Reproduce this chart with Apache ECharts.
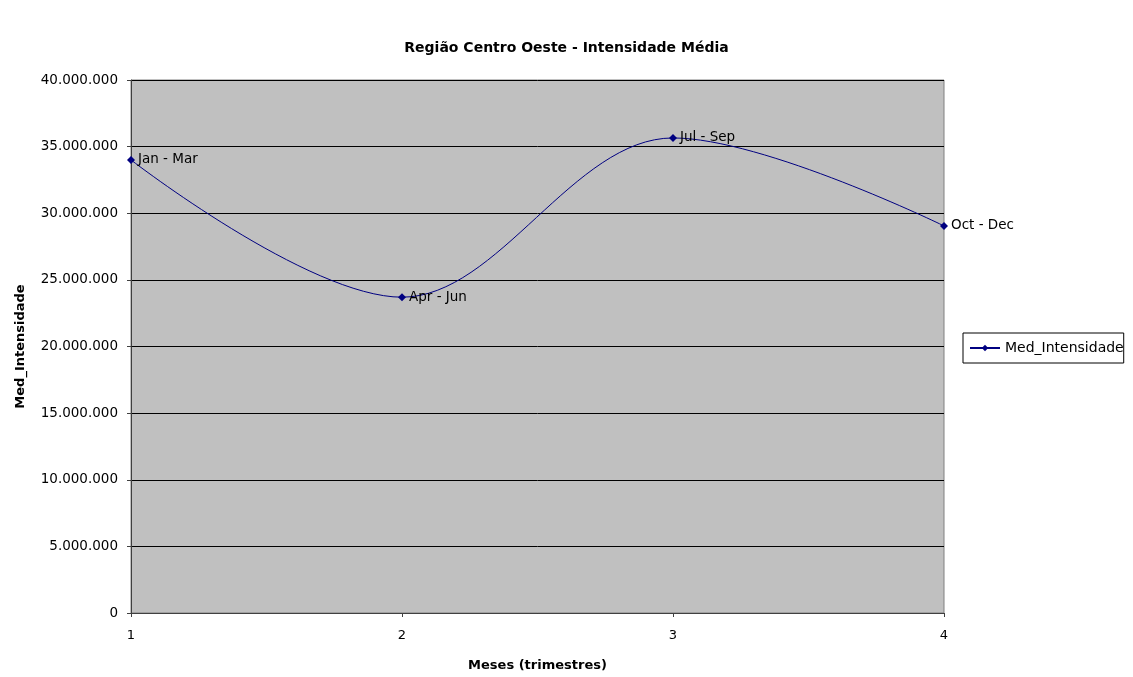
<!DOCTYPE html>
<html>
<head>
<meta charset="utf-8">
<script src="https://cdn.jsdelivr.net/npm/echarts@6/dist/echarts.min.js"></script>
<style>
  html, body { margin: 0; padding: 0; background: #fff; }
  #chart { width: 1133px; height: 677px; }
</style>
</head>
<body>
<div id="chart"></div>
<script>
// trimestres (x) e valores
var trimestres = [1, 2, 3, 4];
var rotulos = ['Jan - Mar', 'Apr - Jun', 'Jul - Sep', 'Oct - Dec'];
var medIntensidade = [34000000, 23700000, 35650000, 29050000];
var yTicks = [0, 5000000, 10000000, 15000000, 20000000, 25000000, 30000000, 35000000, 40000000];

var chart = echarts.init(document.getElementById('chart'));

function fmt(v) {
    return String(Math.round(v)).replace(/\B(?=(\d{3})+(?!\d))/g, '.');
}

var pontos = [];
for (var i = 0; i < trimestres.length; i++) {
    pontos.push({ value: [trimestres[i], medIntensidade[i]], label: { formatter: rotulos[i] } });
}

var fonte = 'DejaVu Sans, Liberation Sans, sans-serif';

var option = {
    animation: false,
    textStyle: { fontFamily: fonte },
    title: {
        text: 'Região Centro Oeste - Intensidade Média',
        left: 'center',
        top: 36,
        textStyle: { fontSize: 14, fontWeight: 'bold', color: '#000', fontFamily: fonte }
    },
    legend: {
        left: 963,
        top: 333,
        orient: 'vertical',
        padding: [8, 0, 8, 6],
        itemGap: 0,
        itemWidth: 30,
        itemHeight: 8,
        borderColor: '#000',
        borderWidth: 1,
        backgroundColor: '#fff',
        textStyle: { fontSize: 14, color: '#000', fontFamily: fonte },
        data: ['Med_Intensidade']
    },
    grid: {
        left: 131,
        right: 189,
        top: 80,
        bottom: 64,
        show: true,
        backgroundColor: '#C0C0C0',
        borderColor: '#808080',
        borderWidth: 1
    },
    xAxis: {
        type: 'value',
        min: 1,
        max: 4,
        interval: 1,
        name: 'Meses (trimestres)',
        nameLocation: 'middle',
        nameGap: 46,
        nameTextStyle: { fontSize: 13, fontWeight: 'bold', color: '#000', fontFamily: fonte },
        axisLine: { show: true, lineStyle: { color: '#404040', width: 1 } },
        axisTick: { show: true, inside: false, length: 4, lineStyle: { color: '#404040' } },
        axisLabel: { fontSize: 13, color: '#000', margin: 16 },
        splitLine: { show: false }
    },
    yAxis: {
        type: 'value',
        min: 0,
        max: 40000000,
        interval: 5000000,
        name: 'Med_Intensidade',
        nameLocation: 'middle',
        nameGap: 104,
        nameTextStyle: { fontSize: 13, fontWeight: 'bold', color: '#000', fontFamily: fonte },
        axisLine: { show: true, lineStyle: { color: '#404040', width: 1 } },
        axisTick: { show: true, length: 4, lineStyle: { color: '#404040' } },
        axisLabel: {
            fontSize: 13.5,
            color: '#000',
            margin: 13,
            formatter: function (v) { return yTicks.indexOf(v) >= 0 ? fmt(v) : ''; }
        },
        splitLine: { show: true, lineStyle: { color: '#000', width: 1 } }
    },
    series: [
        {
            name: 'Med_Intensidade',
            type: 'line',
            smooth: 0.35,
            symbol: 'diamond',
            symbolSize: 8,
            data: pontos,
            itemStyle: { color: '#000080' },
            lineStyle: { color: '#000080', width: 1 },
            label: {
                show: true,
                position: 'right',
                distance: 3,
                fontSize: 13.5,
                color: '#000'
            }
        }
    ]
};

chart.setOption(option);
</script>
</body>
</html>
